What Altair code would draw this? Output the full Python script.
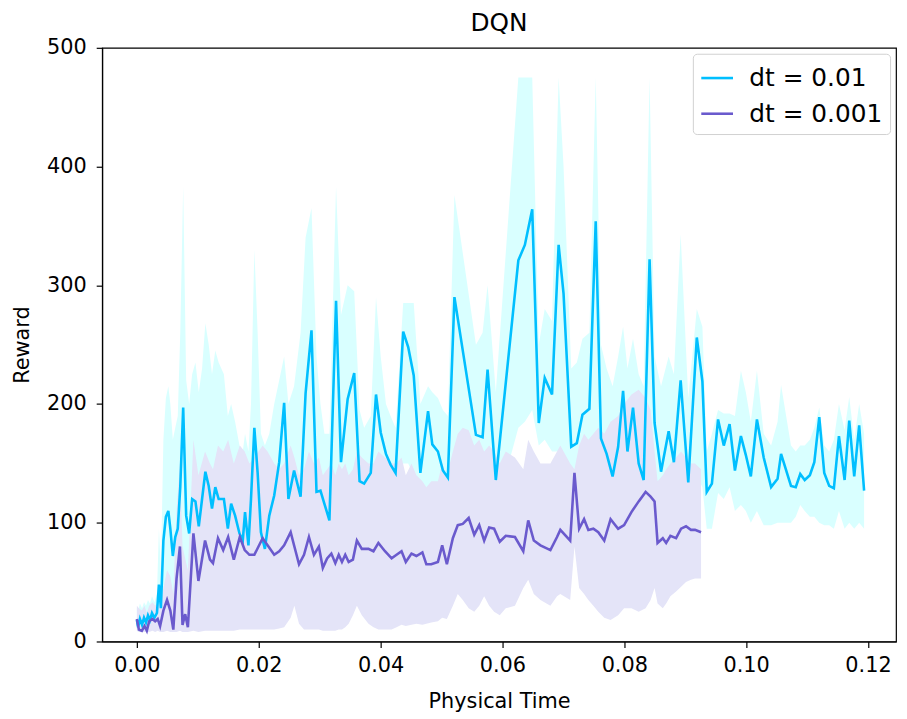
import altair as alt
import pandas as pd

# ---- dt = 0.01 (mean, upper, lower) ----
t1 = [0.0, 0.0002, 0.0005, 0.00085, 0.00117, 0.0015, 0.00182, 0.00215, 0.00248, 0.00288,
      0.00329, 0.00362, 0.00394, 0.00435, 0.00476, 0.00516, 0.00549, 0.0059, 0.0063, 0.00671,
      0.00712, 0.0076, 0.00809, 0.00858, 0.00907, 0.00961, 0.01016, 0.0107, 0.01124, 0.01179,
      0.01233, 0.01287, 0.01342, 0.01428, 0.01493, 0.01547, 0.01612, 0.01684, 0.01738, 0.01775,
      0.01831, 0.01873, 0.01928, 0.01982, 0.02036, 0.02101, 0.02173, 0.02254, 0.02336, 0.02417,
      0.02487, 0.0258, 0.02687, 0.02769, 0.02866, 0.02948, 0.03013, 0.03078, 0.0316, 0.03269,
      0.0335, 0.03459, 0.03567, 0.03655, 0.0373, 0.03839, 0.03925, 0.04002, 0.04088, 0.04164,
      0.04246, 0.04371, 0.04453, 0.04544, 0.04653, 0.04779, 0.04849, 0.04941, 0.05023, 0.05104,
      0.05212, 0.05565, 0.05674, 0.05756, 0.05891, 0.06261, 0.06368, 0.06489, 0.06596, 0.06694,
      0.06814, 0.06922, 0.07003, 0.07129, 0.07221, 0.07313, 0.07427, 0.07531, 0.07617, 0.0771,
      0.07808, 0.07899, 0.0798, 0.08052, 0.08143, 0.08236, 0.08318, 0.08415, 0.08497, 0.08603,
      0.08728, 0.08814, 0.08925, 0.0905, 0.0919, 0.09282, 0.09353, 0.09438, 0.09539, 0.09633,
      0.09728, 0.09816, 0.09914, 0.09995, 0.10077, 0.10177, 0.10288, 0.1041, 0.10516, 0.10573,
      0.10736, 0.10814, 0.10888, 0.10961, 0.11046, 0.11119, 0.112, 0.11282, 0.11363, 0.1144,
      0.11523, 0.11616, 0.11692, 0.11774, 0.11855, 0.11936]
r1 = [18, 12, 19, 14, 20, 16, 22, 18, 24, 20,
      24, 48, 28, 85, 105, 110, 95, 72, 88, 95,
      130, 197, 106, 91, 120, 118, 97, 120, 143, 131,
      112, 130, 120, 120, 95, 116, 106, 91, 85, 109,
      81, 120, 180, 142, 92, 78, 106, 123, 151, 201,
      120, 144, 122, 209, 262, 126, 127, 116, 102, 287,
      151, 204, 226, 135, 133, 142, 208, 176, 158, 149,
      142, 261, 248, 224, 142, 194, 166, 160, 144, 138,
      290, 174, 172, 229, 136, 321, 334, 364, 184, 222,
      208, 334, 293, 164, 167, 191, 196, 354, 171, 158,
      139, 164, 211, 160, 197, 150, 136, 322, 184, 143,
      177, 151, 220, 134, 256, 219, 126, 133, 187, 165,
      183, 144, 173, 157, 139, 187, 155, 130, 137, 158,
      131, 130, 141, 136, 140, 151, 189, 142, 131, 129,
      173, 136, 186, 139, 182, 127]
up1 = [28, 26, 32, 28, 33, 30, 35, 32, 38, 33,
       40, 95, 60, 170, 205, 215, 200, 170, 180, 190,
       260, 383, 220, 200, 225, 235, 210, 230, 268, 250,
       225, 245, 235, 225, 190, 200, 185, 165, 160, 175,
       160, 200, 330, 260, 175, 165, 175, 200, 220, 240,
       200, 215, 260, 340, 365, 240, 200, 175, 175, 383,
       275, 300, 295, 195, 180, 190, 290, 240, 200, 190,
       180, 285, 285, 285, 200, 215, 210, 205, 195, 190,
       376, 250, 260, 300, 210, 475, 475, 475, 250, 280,
       270, 475, 400, 230, 235, 255, 260, 475, 250, 230,
       215, 240, 265, 230, 255, 225, 215, 475, 240, 215,
       240, 225, 343, 205, 280, 265, 160, 175, 195, 192,
       192, 190, 228, 210, 185, 228, 175, 165, 185, 216,
       165, 160, 165, 165, 170, 180, 197, 165, 160, 170,
       200, 178, 206, 170, 200, 175]
lo1 = [10, 8, 9, 8, 9, 8, 10, 9, 10, 9,
       10, 10, 9, 12, 15, 18, 15, 12, 15, 20,
       25, 30, 30, 25, 30, 35, 30, 35, 40, 40,
       35, 40, 40, 45, 40, 50, 45, 40, 40, 45,
       35, 45, 50, 45, 40, 35, 45, 50, 70, 120,
       80, 85, 80, 100, 120, 90, 100, 100, 80, 130,
       110, 110, 120, 100, 105, 110, 120, 115, 115, 110,
       110, 150, 150, 140, 110, 120, 120, 115, 110, 110,
       160, 150, 140, 140, 110, 180, 185, 195, 165, 170,
       160, 160, 150, 140, 140, 145, 145, 155, 130, 125,
       115, 120, 140, 120, 140, 115, 110, 150, 130, 110,
       125, 115, 130, 100, 140, 130, 95, 95, 125, 120,
       130, 110, 115, 110, 100, 110, 98, 98, 100, 100,
       100, 105, 115, 110, 105, 105, 100, 98, 98, 95,
       110, 95, 100, 95, 100, 95]

# ---- dt = 0.001 (mean, upper, lower) ----
t2 = [0.0, 0.00033, 0.00081, 0.00125, 0.00163, 0.00202, 0.00256, 0.003, 0.00342, 0.00381,
      0.00435, 0.00495, 0.00549, 0.00598, 0.00651, 0.00707, 0.00749, 0.00793, 0.00837, 0.00928,
      0.0101, 0.01119, 0.012, 0.01249, 0.01331, 0.01417, 0.01498, 0.01591, 0.01689, 0.0177,
      0.01847, 0.01928, 0.02064, 0.02145, 0.02254, 0.02336, 0.02417, 0.02524, 0.02585, 0.02661,
      0.02743, 0.02824, 0.02906, 0.02987, 0.03052, 0.03122, 0.03192, 0.03257, 0.03313, 0.03366,
      0.0342, 0.03476, 0.03546, 0.03611, 0.03692, 0.03801, 0.03883, 0.03964, 0.04072, 0.04181,
      0.04262, 0.04344, 0.04414, 0.04507, 0.04588, 0.04686, 0.04751, 0.04832, 0.04941, 0.05011,
      0.05088, 0.05186, 0.05267, 0.05349, 0.05446, 0.05537, 0.05619, 0.057, 0.05782, 0.05863,
      0.05956, 0.06054, 0.06205, 0.06342, 0.06423, 0.06515, 0.06624, 0.06787, 0.06896, 0.0695,
      0.07112, 0.07182, 0.07259, 0.0734, 0.0741, 0.07492, 0.07573, 0.07671, 0.07775, 0.07899,
      0.07997, 0.08117, 0.08236, 0.0835, 0.08432, 0.08497, 0.08546, 0.08632, 0.08687, 0.08757,
      0.0885, 0.08932, 0.09013, 0.09094, 0.09161, 0.0926]
r2 = [19, 10, 9, 13, 9, 17, 19, 17, 19, 13,
      26, 35, 26, 10, 53, 80, 14, 23, 12, 91,
      51, 85, 69, 66, 87, 77, 88, 69, 88, 77,
      73, 73, 87, 81, 73, 76, 81, 92, 80, 65,
      73, 88, 73, 80, 62, 70, 74, 66, 73, 67,
      73, 67, 69, 85, 78, 78, 76, 83, 76, 70,
      73, 76, 67, 74, 72, 75, 65, 65, 67, 81,
      65, 87, 98, 99, 104, 90, 98, 85, 96, 95,
      84, 89, 88, 76, 102, 85, 81, 77, 88, 94,
      85, 142, 95, 103, 94, 95, 92, 85, 103, 95,
      98, 109, 118, 126, 122, 118, 83, 87, 83, 89,
      87, 95, 97, 94, 94, 92]
up2 = [30, 28, 26, 30, 24, 30, 33, 30, 33, 30,
       45, 60, 55, 40, 110, 150, 80, 70, 60, 170,
       140, 160, 150, 145, 165, 160, 170, 150, 165, 160,
       150, 155, 165, 160, 150, 145, 150, 165, 155, 140,
       145, 160, 150, 155, 140, 145, 150, 140, 150, 145,
       150, 140, 145, 160, 155, 150, 150, 160, 155, 150,
       150, 155, 140, 150, 140, 135, 130, 135, 135, 150,
       140, 160, 175, 180, 178, 165, 170, 160, 165, 160,
       150, 160, 155, 145, 170, 160, 150, 150, 160, 165,
       150, 145, 165, 175, 170, 175, 180, 175, 185, 190,
       200, 208, 212, 205, 195, 160, 135, 140, 145, 150,
       155, 160, 155, 150, 150, 145]
lo2 = [9, 8, 8, 8, 8, 8, 9, 8, 9, 8,
       8, 9, 8, 8, 8, 9, 8, 8, 8, 9,
       8, 9, 9, 9, 9, 9, 9, 9, 10, 10,
       10, 10, 10, 10, 10, 11, 12, 20, 30, 15,
       10, 10, 10, 10, 9, 9, 9, 9, 10, 10,
       12, 15, 22, 30, 22, 15, 12, 10, 10, 10,
       12, 14, 13, 14, 15, 14, 15, 16, 17, 20,
       19, 30, 40, 35, 28, 25, 30, 38, 30, 25,
       22, 28, 30, 45, 52, 40, 35, 30, 38, 40,
       35, 80, 45, 40, 35, 30, 25, 20, 18, 22,
       28, 28, 25, 28, 35, 45, 32, 28, 32, 38,
       42, 46, 50, 52, 53, 53]

labels = ["dt = 0.01", "dt = 0.001"]
line_colors = ["#00bfff", "#6a5acd"]
band_colors = ["#d9ffff", "#e4e4f8"]

df1 = pd.DataFrame({"t": t1, "r": r1, "up": up1, "lo": lo1, "series": labels[0]})
df2 = pd.DataFrame({"t": t2, "r": r2, "up": up2, "lo": lo2, "series": labels[1]})

FONT = "DejaVu Sans"
FS = 21
xscale = alt.Scale(domain=[-0.0057, 0.1246], nice=False, zero=False)
yscale = alt.Scale(domain=[0, 500], nice=False)
xaxis = alt.Axis(title="Physical Time", values=[0, 0.02, 0.04, 0.06, 0.08, 0.10, 0.12], format=".2f")
yaxis = alt.Axis(title="Reward", values=[0, 100, 200, 300, 400, 500], format="d")
cscale = alt.Scale(domain=labels, range=line_colors)

def band(df, col):
    return alt.Chart(df).mark_area(color=col, opacity=1, interpolate="linear").encode(
        x=alt.X("t:Q", scale=xscale, axis=xaxis),
        y=alt.Y("up:Q", scale=yscale, axis=yaxis, stack=None),
        y2=alt.Y2("lo:Q"),
    )

def line(df):
    return alt.Chart(df).mark_line(strokeWidth=2.6).encode(
        x=alt.X("t:Q", scale=xscale, axis=xaxis),
        y=alt.Y("r:Q", scale=yscale, axis=yaxis),
        color=alt.Color("series:N", scale=cscale, title=None,
                        legend=alt.Legend(orient="none", legendX=596, legendY=6,
                                          symbolType="stroke", symbolSize=1024,
                                          symbolStrokeWidth=2.6, labelFontSize=25,
                                          labelFont=FONT, labelColor="black",
                                          strokeColor="#d0d0d0", fillColor="white",
                                          cornerRadius=4, padding=7, rowPadding=5,
                                          labelOffset=15)),
    )

chart = alt.layer(
    band(df1, band_colors[0]),
    band(df2, band_colors[1]),
    line(df1),
    line(df2),
).properties(
    width=801, height=599,
    title=alt.TitleParams("DQN", fontSize=25, font=FONT, fontWeight="normal", color="black",
                          offset=1),
    autosize=alt.AutoSizeParams(type="none"),
    padding={"left": 95, "top": 37, "right": 3, "bottom": 72},
).configure_view(stroke="black", strokeWidth=1.2).configure_axis(
    labelFont=FONT, labelFontSize=FS, labelColor="black", titleFont=FONT, titleFontSize=FS,
    titleColor="black", titleFontWeight="normal", tickColor="black", tickSize=6, tickWidth=1.2,
    domainColor="black", domainWidth=1.2, grid=False,
).configure_axisX(titlePadding=16, labelPadding=7).configure_axisY(titlePadding=14, labelPadding=10)

chart.save("out.html", embed_options={"renderer": "svg", "actions": False})
